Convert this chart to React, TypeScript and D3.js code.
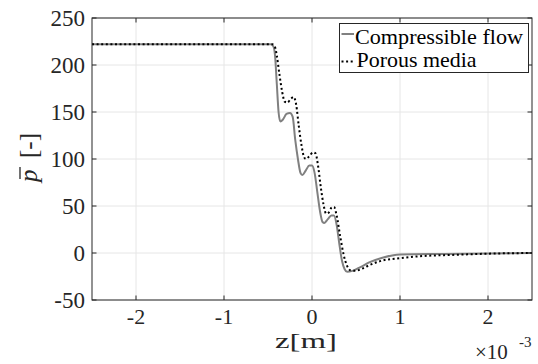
import React from "react";
import * as d3 from "d3";

const xTicks = [-2, -1, 0, 1, 2];
const yTicks = [-50, 0, 50, 100, 150, 200, 250];

const compZ = [-2.5, -0.47, -0.44, -0.42, -0.4, -0.38, -0.36, -0.33, -0.29, -0.25, -0.22, -0.19, -0.16, -0.13, -0.11, -0.07, -0.03, 0, 0.03, 0.06, 0.09, 0.12, 0.14, 0.18, 0.22, 0.25, 0.28, 0.31, 0.34, 0.37, 0.4, 0.46, 0.55, 0.65, 0.8, 1.0, 1.5, 2.0, 2.5];
const compP = [222, 222, 220, 210, 180, 150, 140, 142, 148, 149, 145, 120, 100, 85, 83, 88, 93, 93, 85, 65, 45, 33, 32, 36, 40, 40, 30, 10, -8, -17, -20, -19, -15, -10, -5, -1.5, -1, -0.5, 0];

const porZ = [-2.5, -0.45, -0.42, -0.4, -0.37, -0.34, -0.31, -0.28, -0.24, -0.21, -0.18, -0.15, -0.12, -0.09, -0.07, -0.03, 0.01, 0.04, 0.07, 0.1, 0.13, 0.16, 0.19, 0.22, 0.25, 0.28, 0.32, 0.36, 0.4, 0.44, 0.49, 0.56, 0.65, 0.8, 1.0, 1.3, 1.6, 2.0, 2.5];
const porP = [222, 222, 219, 210, 190, 172, 161, 160, 164, 166, 158, 135, 115, 102, 100, 103, 107, 106, 92, 70, 52, 42, 43, 48, 49, 40, 18, -2, -14, -18.5, -19, -17, -13, -8, -5.5, -3, -2, -0.7, 0];

const seriesNames = ["Compressible flow", "Porous media"];

const FONT = "Liberation Serif";

export default function App() {
  const W = 538, H = 364;
  const L = 92, R = 532, T = 18, B = 300;
  const x = d3.scaleLinear().domain([-2.5, 2.5]).range([L, R]);
  const y = d3.scaleLinear().domain([-50, 250]).range([B, T]);
  const line = d3.line<[number, number]>().x(d => x(d[0])).y(d => y(d[1])).curve(d3.curveMonotoneX);
  const comp = compZ.map((z, i) => [z, compP[i]] as [number, number]);
  const por = porZ.map((z, i) => [z, porP[i]] as [number, number]);
  const ts = { fontFamily: FONT };
  const axisCol = "#262626";
  const tl = 4.5;
  return (
    <svg width={W} height={H} style={{ position: "absolute", left: 0, top: 0, background: "#fff" }}>
      <rect x={0} y={0} width={W} height={H} fill="#fff" />
      <defs>
        <clipPath id="plotclip"><rect x={L} y={T} width={R - L} height={B - T} /></clipPath>
      </defs>
      {xTicks.map(t => (
        <line key={"gx" + t} x1={x(t)} x2={x(t)} y1={T} y2={B} stroke="#e6e6e6" strokeWidth={1} />
      ))}
      {yTicks.map(t => (
        <line key={"gy" + t} x1={L} x2={R} y1={y(t)} y2={y(t)} stroke="#e6e6e6" strokeWidth={1} />
      ))}
      <g clipPath="url(#plotclip)">
        <path d={line(comp) || ""} fill="none" stroke="#808080" strokeWidth={2} />
        <path d={line(por) || ""} fill="none" stroke="#000" strokeWidth={2} strokeDasharray="2,2.6" />
      </g>
      <rect x={L} y={T} width={R - L} height={B - T} fill="none" stroke={axisCol} strokeWidth={1} />
      {xTicks.map(t => (
        <g key={"tx" + t}>
          <line x1={x(t)} x2={x(t)} y1={B} y2={B - tl} stroke={axisCol} />
          <line x1={x(t)} x2={x(t)} y1={T} y2={T + tl} stroke={axisCol} />
          <text style={ts} x={x(t)} y={324} fontSize={22} textAnchor="middle" fill="#262626">{t}</text>
        </g>
      ))}
      {yTicks.map(t => (
        <g key={"ty" + t}>
          <line x1={L} x2={L + tl} y1={y(t)} y2={y(t)} stroke={axisCol} />
          <line x1={R} x2={R - tl} y1={y(t)} y2={y(t)} stroke={axisCol} />
          <text style={ts} x={85} y={y(t) + 8} fontSize={23} textAnchor="end" fill="#262626">{t}</text>
        </g>
      ))}
      <text style={ts} x={306} y={348} fontSize={22} textAnchor="middle" fill="#262626" textLength={62} lengthAdjust="spacingAndGlyphs">z[m]</text>
      <text style={ts} x={475} y={359} fontSize={21} fill="#262626">×10</text>
      <text style={ts} x={519} y={347} fontSize={15} fill="#262626">-3</text>
      <g transform="translate(37,158) rotate(-90)">
        <text style={ts} x={-24} y={0} fontSize={25} fontStyle="italic" fill="#262626">p</text>
        <line x1={-21} x2={-9} y1={-17} y2={-17} stroke="#262626" strokeWidth={1.3} />
        <text style={ts} x={0} y={0} fontSize={25} fill="#262626">[-]</text>
      </g>
      <rect x={339.5} y={23.5} width={189} height={49} fill="#fff" stroke={axisCol} strokeWidth={1} />
      <line x1={341.5} x2={354} y1={34} y2={34} stroke="#808080" strokeWidth={2} />
      <text style={ts} x={355} y={44} fontSize={22} fill="#000" textLength={168} lengthAdjust="spacingAndGlyphs">{seriesNames[0]}</text>
      <line x1={341.5} x2={354} y1={61.5} y2={61.5} stroke="#000" strokeWidth={2} strokeDasharray="2,2.6" />
      <text style={ts} x={356.5} y={67} fontSize={22} fill="#000" textLength={120} lengthAdjust="spacingAndGlyphs">{seriesNames[1]}</text>
    </svg>
  );
}
